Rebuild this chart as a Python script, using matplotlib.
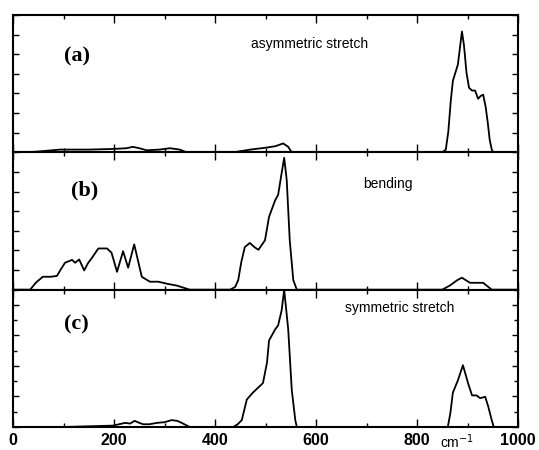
import matplotlib
matplotlib.use("Agg")
import matplotlib.pyplot as plt
import numpy as np
from matplotlib.ticker import MultipleLocator, FixedLocator

# ---- data (relative intensity) ----
a_x = [0, 20, 47, 93, 150, 200, 225, 237, 250, 265, 290, 311, 330, 344, 400, 436, 470, 503,
       520, 535, 545, 552, 600, 700, 800, 850, 857, 862, 867, 871, 876, 881, 885, 889, 893,
       898, 903, 909, 915, 921, 926, 931, 936, 940, 944, 948, 951, 1000]
a_y = [0, 0, 0.005, 0.02, 0.02, 0.025, 0.03, 0.04, 0.03, 0.015, 0.02, 0.03, 0.02, 0, 0, 0,
       0.02, 0.035, 0.045, 0.065, 0.04, 0, 0, 0, 0, 0, 0.02, 0.15, 0.38, 0.52, 0.58, 0.64,
       0.76, 0.88, 0.78, 0.58, 0.47, 0.45, 0.45, 0.39, 0.41, 0.42, 0.33, 0.22, 0.09, 0.02, 0, 0]

b_x = [0, 34, 45, 59, 75, 87, 95, 103, 117, 123, 131, 141, 148, 156, 169, 186, 195, 206,
       218, 228, 240, 247, 255, 271, 288, 305, 324, 350, 430, 440, 446, 452, 459, 469, 478,
       486, 499, 507, 519, 525, 532, 537, 542, 548, 555, 562, 700, 850, 865, 880, 889, 905,
       931, 948, 1000]
b_y = [0, 0, 0.05, 0.094, 0.094, 0.1, 0.15, 0.196, 0.217, 0.196, 0.22, 0.14, 0.19, 0.23,
       0.30, 0.30, 0.27, 0.13, 0.28, 0.16, 0.33, 0.22, 0.094, 0.058, 0.058, 0.043, 0.03, 0,
       0, 0.02, 0.07, 0.2, 0.31, 0.34, 0.31, 0.29, 0.36, 0.53, 0.65, 0.69, 0.85, 0.96, 0.80,
       0.36, 0.07, 0, 0, 0, 0.03, 0.07, 0.087, 0.05, 0.05, 0, 0]

c_x = [0, 100, 198, 210, 222, 232, 241, 250, 258, 270, 285, 300, 314, 325, 334, 350, 436,
       445, 453, 463, 475, 495, 503, 507, 519, 525, 532, 537, 545, 552, 559, 562, 861, 866,
       871, 881, 891, 901, 909, 918, 925, 935, 941, 948, 952, 1000]
c_y = [0, 0, 0.01, 0.02, 0.03, 0.025, 0.045, 0.03, 0.02, 0.02, 0.03, 0.035, 0.05, 0.045,
       0.03, 0, 0, 0.02, 0.05, 0.2, 0.25, 0.32, 0.47, 0.63, 0.71, 0.74, 0.85, 1.0, 0.71, 0.27,
       0.05, 0, 0, 0.1, 0.25, 0.34, 0.45, 0.32, 0.23, 0.23, 0.21, 0.22, 0.15, 0.05, 0, 0]

panel_labels = ["(a)", "(b)", "(c)"]
mode_names = ["asymmetric stretch", "bending", "symmetric stretch"]
x_ticks = [0, 200, 400, 600, 800, 1000]

W, H = 539, 450
fig = plt.figure(figsize=(W / 100, H / 100), dpi=100)

left, right = 13 / W, 518 / W
top, bottom = 15 / H, 427 / H
ph = (bottom - top) / 3

series = [(a_x, a_y), (b_x, b_y), (c_x, c_y)]
label_pos = [((77 - 13) / 505, 0.70), ((85 - 13) / 505, 0.72), ((76 - 13) / 505, 0.75)]
name_pos = [((310 - 13) / 505, 0.79), ((388 - 13) / 505, 0.77), ((400 - 13) / 505, 0.87)]
ytick_step = [1 / 7, 1 / 7, 2 / 9]
yminor_step = [1 / 7, 1 / 7, 1 / 9]

axes = []
for i in range(3):
    y0 = 1 - (top + (i + 1) * ph)
    ax = fig.add_axes([left, y0, right - left, ph])
    xs, ys = series[i]
    ax.plot(xs, ys, color="black", lw=1.3)
    ax.set_xlim(0, 1000)
    ax.set_ylim(0, 1)
    ax.xaxis.set_major_locator(FixedLocator(x_ticks))
    ax.xaxis.set_minor_locator(MultipleLocator(100))
    ax.yaxis.set_major_locator(MultipleLocator(ytick_step[i]))
    ax.yaxis.set_minor_locator(MultipleLocator(yminor_step[i]))
    ax.tick_params(which="both", direction="in", top=True, right=True, width=1.0)
    ax.tick_params(which="major", axis="x", length=6)
    ax.tick_params(which="minor", axis="x", length=3)
    ax.tick_params(which="major", axis="y", length=4)
    ax.tick_params(which="minor", axis="y", length=3)
    ax.set_yticklabels([])
    for s in ax.spines.values():
        s.set_linewidth(1.5)
    if i < 2:
        ax.set_xticklabels([])
    else:
        ax.set_xticklabels([str(t) for t in x_ticks], fontsize=11.5, fontweight="bold",
                           family="Liberation Sans")
        ax.tick_params(axis="x", pad=4)
    ax.text(label_pos[i][0], label_pos[i][1], panel_labels[i], transform=ax.transAxes,
            fontsize=16, fontweight="bold", family="Liberation Serif",
            ha="center", va="center")
    ax.text(name_pos[i][0], name_pos[i][1], mode_names[i], transform=ax.transAxes,
            fontsize=10, family="Liberation Sans", ha="center", va="center")
    axes.append(ax)

fig.text(457 / W, 1 - 442 / H, "cm$^{-1}$", fontsize=10, family="Liberation Sans",
         ha="center", va="center")

fig.savefig("out.png", dpi=100)
